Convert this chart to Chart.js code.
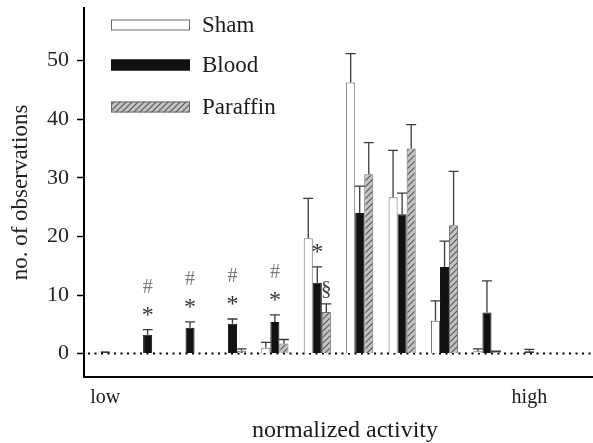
<!DOCTYPE html>
<html>
<head>
<meta charset="utf-8">
<script src="https://cdn.jsdelivr.net/npm/chart.js@4.4.1/dist/chart.umd.min.js"></script>
<style>
  body { margin: 0; background: #fff; }
  canvas { display: block; }
</style>
</head>
<body>
<canvas id="activity-chart" width="593" height="443"></canvas>
<script>
// activity bins, low -> high (last bin empty)
const bins = ['1','2','3','4','5','6','7','8','9','10','11','12'];
const seriesNames = ['Sham', 'Blood', 'Paraffin'];

const shamValues     = [null, null, null, null, 1.0, 19.7, 46.3, 26.7, 5.6, 0.4, null, null];
const shamErrors     = [null, null, null, null, 0.9, 6.8, 4.9, 8.0, 3.4, 0.4, null, null];
const bloodValues    = [0.4, 3.2, 4.4, 5.1, 5.4, 12.1, 24.0, 23.8, 14.8, 7.0, 0.4, null];
const bloodErrors    = [0, 0.9, 1.0, 0.8, 1.2, 2.7, 4.6, 3.6, 4.4, 5.4, 0.3, null];
const paraffinValues = [null, null, null, 0.5, 1.7, 7.1, 30.6, 35.0, 21.9, 0.3, null, null];
const paraffinErrors = [null, null, null, 0.3, 0.7, 1.4, 5.4, 4.1, 9.2, 0.1, null, null];

// significance markers (bins where they appear)
const starBins = [1, 2, 3, 4, 5];     // * over Blood
const hashBins = [1, 2, 3, 4];        // # over Blood
const sectionBins = [5];              // § over Paraffin

const yTicks = [0, 10, 20, 30, 40, 50];
const lowBin = 0, highBin = 10;

const serif = '"Liberation Serif", "DejaVu Serif", serif';

function hatchPattern() {
    const c = document.createElement('canvas');
    c.width = 6; c.height = 6;
    const g = c.getContext('2d');
    g.fillStyle = '#c4c4c4';
    g.fillRect(0, 0, 6, 6);
    g.strokeStyle = '#555';
    g.lineWidth = 1.1;
    g.beginPath();
    g.moveTo(0, 6); g.lineTo(6, 0);
    g.moveTo(-1, 1); g.lineTo(1, -1);
    g.moveTo(5, 7); g.lineTo(7, 5);
    g.stroke();
    return g.createPattern(c, 'repeat');
}
const hatch = hatchPattern();

const errorSets = [shamErrors, bloodErrors, paraffinErrors];

// error bars, only the upper half
const errorBars = {
    id: 'errorBars',
    afterDatasetsDraw(chart) {
        const ctx = chart.ctx;
        const y = chart.scales.y;
        ctx.save();
        ctx.strokeStyle = '#3a3a3a';
        ctx.lineWidth = 1.3;
        chart.data.datasets.forEach((ds, d) => {
            const meta = chart.getDatasetMeta(d);
            meta.data.forEach((bar, i) => {
                const v = ds.data[i], e = errorSets[d][i];
                if (v == null || !e) return;
                const top = y.getPixelForValue(v + e);
                ctx.beginPath();
                ctx.moveTo(bar.x, bar.y);
                ctx.lineTo(bar.x, top);
                ctx.moveTo(bar.x - 5, top);
                ctx.lineTo(bar.x + 5, top);
                ctx.stroke();
            });
        });
        ctx.restore();
    }
};

// dotted zero line, markers, legend and axis words
const extras = {
    id: 'extras',
    beforeDatasetsDraw(chart) {
        const ctx = chart.ctx, a = chart.chartArea;
        const y0 = chart.scales.y.getPixelForValue(0);
        ctx.save();
        ctx.strokeStyle = '#000';
        ctx.lineWidth = 2;
        ctx.setLineDash([2, 4.5]);
        ctx.beginPath();
        ctx.moveTo(a.left + 4, y0);
        ctx.lineTo(a.right, y0);
        ctx.stroke();
        ctx.restore();
    },
    afterDraw(chart) {
        const ctx = chart.ctx;
        const ys = chart.scales.y, xs = chart.scales.x;
        const top = (d, i) => ys.getPixelForValue(chart.data.datasets[d].data[i] + (errorSets[d][i] || 0));
        ctx.save();
        ctx.textAlign = 'center';
        ctx.textBaseline = 'middle';
        ctx.font = '24px ' + serif;
        ctx.fillStyle = '#333';
        starBins.forEach(i => {
            const bar = chart.getDatasetMeta(1).data[i];
            ctx.fillText('*', bar.x, top(1, i) - 14);
        });
        ctx.font = '20px ' + serif;
        ctx.fillStyle = '#7a7a7a';
        hashBins.forEach(i => {
            const bar = chart.getDatasetMeta(1).data[i];
            ctx.fillText('#', bar.x, top(1, i) - 42);
        });
        ctx.font = '21px ' + serif;
        ctx.fillStyle = '#444';
        sectionBins.forEach(i => {
            const bar = chart.getDatasetMeta(2).data[i];
            ctx.fillText('§', bar.x, top(2, i) - 14);
        });

        // legend
        const styles = chart.data.datasets;
        const rows = [25, 65, 107];
        ctx.textAlign = 'left';
        ctx.font = '23px ' + serif;
        styles.forEach((ds, d) => {
            const yc = rows[d];
            ctx.fillStyle = ds.backgroundColor;
            ctx.fillRect(111, yc - 5.5, 79, 11);
            ctx.strokeStyle = ds.borderColor;
            ctx.lineWidth = 1;
            ctx.strokeRect(111.5, yc - 5, 78, 10);
            ctx.fillStyle = '#1a1a1a';
            ctx.fillText(seriesNames[d], 202, yc + 1);
        });

        // x-axis words
        ctx.font = '20px ' + serif;
        ctx.textAlign = 'center';
        ctx.textBaseline = 'alphabetic';
        ctx.fillText('low', xs.getPixelForValue(lowBin), 403);
        ctx.fillText('high', xs.getPixelForValue(highBin), 403);
        ctx.font = '24px ' + serif;
        ctx.fillText('normalized activity', 345, 437);
        ctx.restore();
    }
};

const config = {
    type: 'bar',
    data: {
        labels: bins,
        datasets: [
            { label: seriesNames[0], data: shamValues, backgroundColor: '#ffffff', borderColor: '#6a6a6a', borderWidth: 1 },
            { label: seriesNames[1], data: bloodValues, backgroundColor: '#111111', borderColor: '#111111', borderWidth: 1 },
            { label: seriesNames[2], data: paraffinValues, backgroundColor: hatch, borderColor: '#6a6a6a', borderWidth: 1 }
        ]
    },
    options: {
        responsive: false,
        animation: false,
        layout: { padding: { top: 8, right: 0, left: 0, bottom: 0 } },
        categoryPercentage: 0.64,
        barPercentage: 1.0,
        plugins: {
            legend: { display: false },
            tooltip: { enabled: false }
        },
        scales: {
            x: {
                ticks: { display: false },
                grid: { display: false, drawTicks: false },
                border: { display: true, color: '#000', width: 2 },
                afterFit: s => { s.height = 66; }
            },
            y: {
                min: -4,
                max: 59,
                afterBuildTicks: s => { s.ticks = yTicks.map(v => ({ value: v })); },
                ticks: {
                    color: '#222',
                    font: { family: serif, size: 22 },
                    padding: 8
                },
                grid: { drawOnChartArea: false, tickLength: 7, color: '#000', tickWidth: 1.5 },
                border: { display: true, color: '#000', width: 2 },
                title: {
                    display: true,
                    text: 'no. of observations',
                    color: '#222',
                    font: { family: serif, size: 23 },
                    padding: { top: 7, bottom: 0 }
                },
                afterFit: s => { s.width = 84; s.paddingTop = 0; s.paddingBottom = 0; }
            }
        }
    },
    plugins: [errorBars, extras]
};

new Chart(document.getElementById('activity-chart'), config);
</script>
</body>
</html>
